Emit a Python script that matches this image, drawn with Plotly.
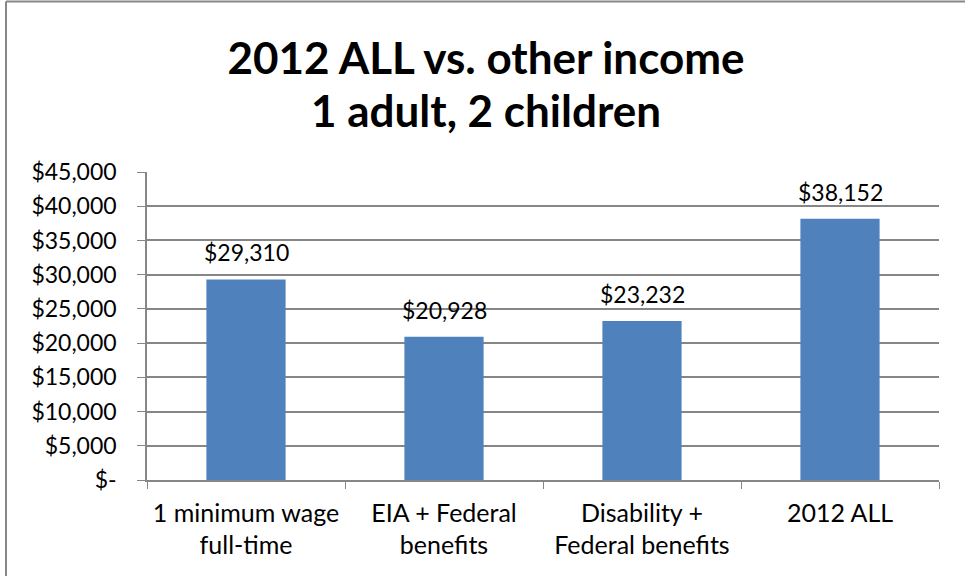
import plotly.graph_objects as go

categories = ["1 minimum wage<br>full-time", "EIA + Federal<br>benefits", "Disability +<br>Federal benefits", "2012 ALL"]
values = [29310, 20928, 23232, 38152]
tick_vals = [0, 5000, 10000, 15000, 20000, 25000, 30000, 35000, 40000, 45000]
tick_text = ["$-", "$5,000", "$10,000", "$15,000", "$20,000", "$25,000", "$30,000", "$35,000", "$40,000", "$45,000"]
title_line1 = "2012 ALL vs. other income"
title_line2 = "1 adult, 2 children"

FONT = "Lato, Calibri, Open Sans, sans-serif"

fig = go.Figure(go.Bar(
    x=categories,
    y=values,
    marker=dict(color="#4F81BD", line=dict(width=0)),
    width=0.4,
))

L, R, T, B = 147, 26, 172, 96
W, H = 965, 576
pw, ph = W - L - R, H - T - B

def py(pix):
    # pixel y from top -> paper coordinate
    return (H - B - pix) / ph

def px(pix):
    return (pix - L) / pw

annotations = [
    dict(x=c, y=v, xref="x", yref="y", text="${:,}".format(v), showarrow=False,
         yanchor="bottom", yshift=11, font=dict(size=23, family=FONT, color="#000000"))
    for c, v in zip(categories, values)
]
annotations.append(dict(x=px(486), y=py(110), xref="paper", yref="paper", text="<b>" + title_line2 + "</b>",
                        showarrow=False, xanchor="center", yanchor="middle",
                        font=dict(size=44, family=FONT, color="#000000")))

border = dict(color="#888888", width=2)
fig.update_layout(
    width=W, height=H,
    margin=dict(l=L, r=R, t=T, b=B),
    paper_bgcolor="white", plot_bgcolor="white",
    font=dict(family=FONT, size=20, color="#000000"),
    title=dict(text="<b>" + title_line1 + "</b>", x=486 / W, xanchor="center",
               y=1 - 59 / H, yanchor="middle",
               font=dict(size=44, family=FONT, color="#000000")),
    showlegend=False,
    annotations=annotations,
    shapes=[
        dict(type="line", xref="paper", yref="paper", x0=px(6), x1=px(6), y0=py(H), y1=py(1.5), line=border, layer="below"),
        dict(type="line", xref="paper", yref="paper", x0=px(6), x1=px(W), y0=py(1.5), y1=py(1.5), line=border, layer="below"),
    ],
)
fig.update_xaxes(
    showline=True, linecolor="#868686", linewidth=1.5,
    ticks="outside", ticklen=7, tickcolor="#868686", tickson="boundaries",
    tickfont=dict(size=25, family=FONT), showgrid=False, ticklabelstandoff=10,
)
fig.update_yaxes(
    range=[0, 45000], tickvals=tick_vals, ticktext=tick_text,
    showline=True, linecolor="#868686", linewidth=1.5,
    ticks="outside", ticklen=8, tickcolor="#868686",
    showgrid=True, gridcolor="#868686", gridwidth=1.5,
    tickfont=dict(size=23, family=FONT), zeroline=False, ticklabelstandoff=16,
)

fig.write_html("out.html")
